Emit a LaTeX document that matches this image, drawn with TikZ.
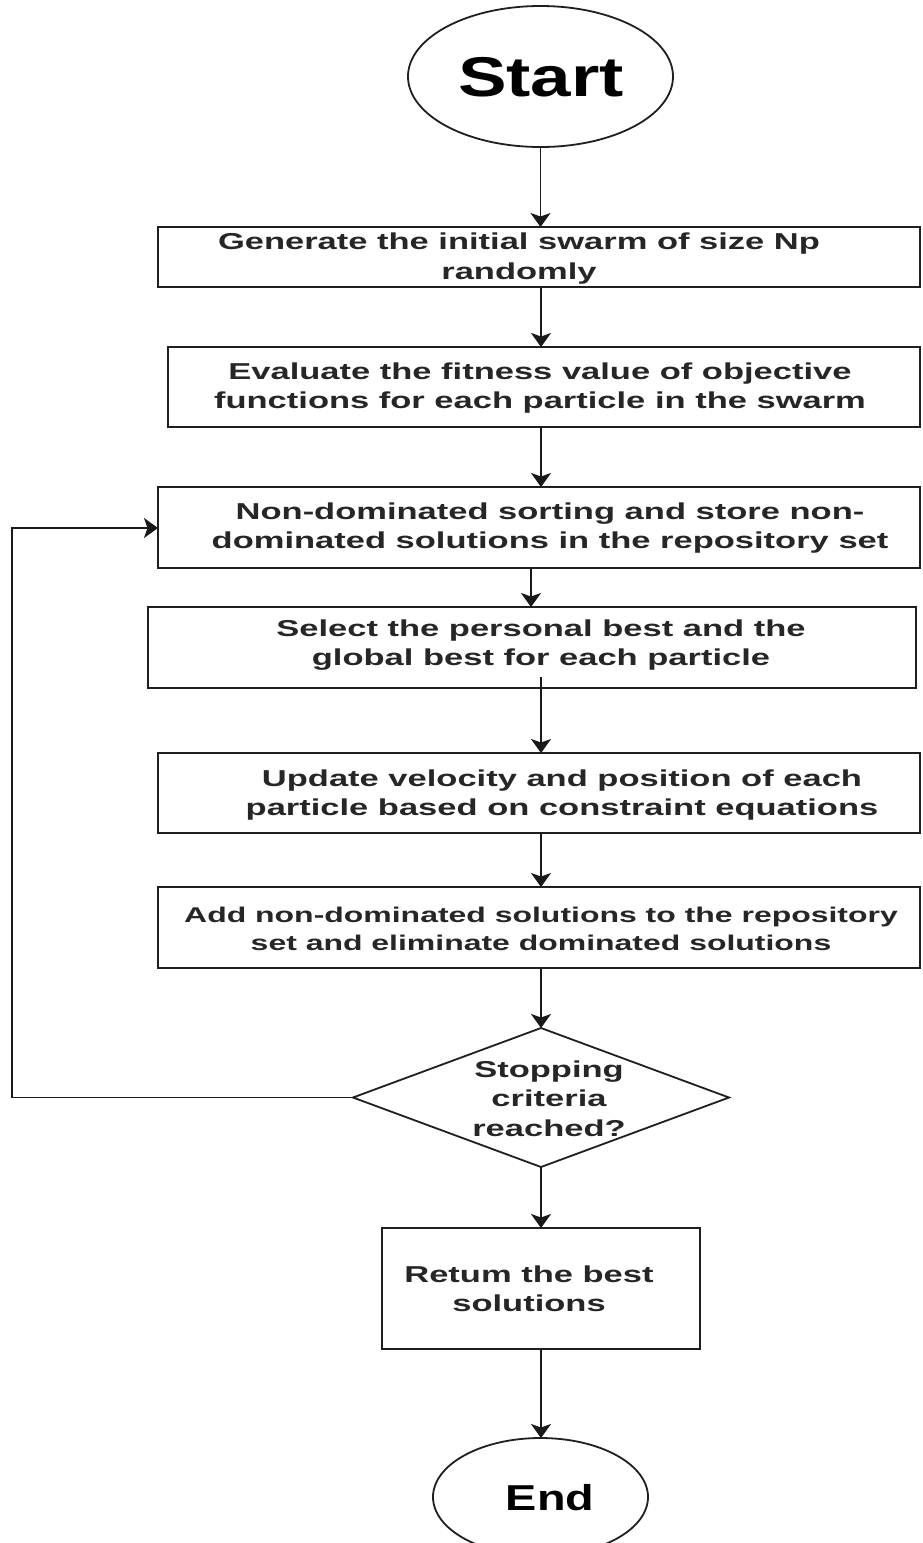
\documentclass[tikz,border=0pt]{standalone}
\usepackage{fontspec}
\newfontfamily\boxfont{Liberation Sans}[FakeStretch=1.5]
\newfontfamily\termfont{Liberation Sans}[FakeStretch=1.3]
\usetikzlibrary{shapes.geometric,arrows.meta}
\begin{document}
\begin{tikzpicture}[x=1pt,y=-1pt,
  shapebox/.style={draw=black!88, line width=2pt, rectangle, inner sep=0pt, outer sep=0pt},
  termshape/.style={draw=black!88, line width=1.8pt, ellipse, inner sep=0pt, outer sep=0pt},
  decshape/.style={draw=black!88, line width=1.8pt, diamond, inner sep=0pt, outer sep=0pt},
  lbl/.style={font=\boxfont\bfseries\fontsize{23}{29.5}\selectfont, align=center, text=black!85, inner sep=0pt},
  arr/.style={-{Stealth[length=14pt,width=20pt,inset=3.5pt]}, line width=1.8pt, draw=black!90}]
\clip (0,0) rectangle (922,1543);
\fill[white] (0,0) rectangle (922,1543);

% shapes
\node[termshape, minimum width=265pt, minimum height=141pt] (start) at (540.5,76.5) {};
\node[shapebox, minimum width=762pt, minimum height=60pt] (b1) at (539,257) {};
\node[shapebox, minimum width=752pt, minimum height=80pt] (b2) at (544,387) {};
\node[shapebox, minimum width=762pt, minimum height=81pt] (b3) at (539,527.5) {};
\node[shapebox, minimum width=768pt, minimum height=81pt] (b4) at (532,647.5) {};
\node[shapebox, minimum width=762pt, minimum height=80pt] (b5) at (539,793) {};
\node[shapebox, minimum width=762pt, minimum height=81pt] (b6) at (539,927.5) {};
\node[decshape, minimum width=376pt, minimum height=139pt] (dec) at (541,1097.5) {};
\node[shapebox, minimum width=318pt, minimum height=121pt] (b7) at (541,1288.5) {};
\node[termshape, minimum width=215pt, minimum height=118pt] (stop) at (540.5,1497) {};

% texts
\node[text=black, inner sep=0pt, font=\termfont\bfseries\fontsize{56}{60}\selectfont] (tstart) at (541,77) {Start};
\node[text=black, inner sep=0pt, font=\termfont\bfseries\fontsize{36}{40}\selectfont] (tend) at (550,1498) {End};
\node[lbl] (t1) at (519,258.5) {Generate the initial swarm of size Np\\randomly};
\node[lbl] (t2) at (540,388) {Evaluate the fitness value of objective\\functions for each particle in the swarm};
\node[lbl] (t3) at (550,528) {Non-dominated sorting and store non-\\dominated solutions in the repository set};
\node[lbl] (t4) at (541,645) {Select the personal best and the\\global best for each particle};
\node[lbl] (t5) at (562,795) {Update velocity and position of each\\particle based on constraint equations};
\node[lbl, font=\boxfont\bfseries\fontsize{21.3}{28}\selectfont] (t6) at (541,929) {Add non-dominated solutions to the repository\\set and eliminate dominated solutions};
\node[lbl] (td) at (549,1098.5) {Stopping\\criteria\\reached?};
\node[lbl] (t7) at (529,1289) {Retum the best\\solutions};

% connectors
\draw[arr] (start.south) -- (start.south |- b1.north);
\draw[arr] ([xshift=2pt]b1.south) -- ([xshift=2pt]b1.south |- b2.north);
\draw[arr] ([xshift=-3pt]b2.south) -- ([xshift=-3pt]b2.south |- b3.north);
\draw[arr] ([xshift=-8pt]b3.south) -- ([xshift=-8pt]b3.south |- b4.north);
\draw[arr] ([xshift=9pt,yshift=11pt]b4.south) -- ([xshift=9pt]b4.south |- b5.north);
\draw[arr] ([xshift=2pt]b5.south) -- ([xshift=2pt]b5.south |- b6.north);
\draw[arr] ([xshift=2pt]b6.south) -- (dec.north);
\draw[arr] (dec.south) -- (b7.north);
\draw[arr] (b7.south) -- (b7.south |- stop.north);
\coordinate (loopA) at (12,1097.5);
\coordinate (loopB) at (12,528);
\draw[arr] (dec.west) -- (loopA) -- (loopB) -- (loopB -| b3.west);
\end{tikzpicture}
\end{document}
